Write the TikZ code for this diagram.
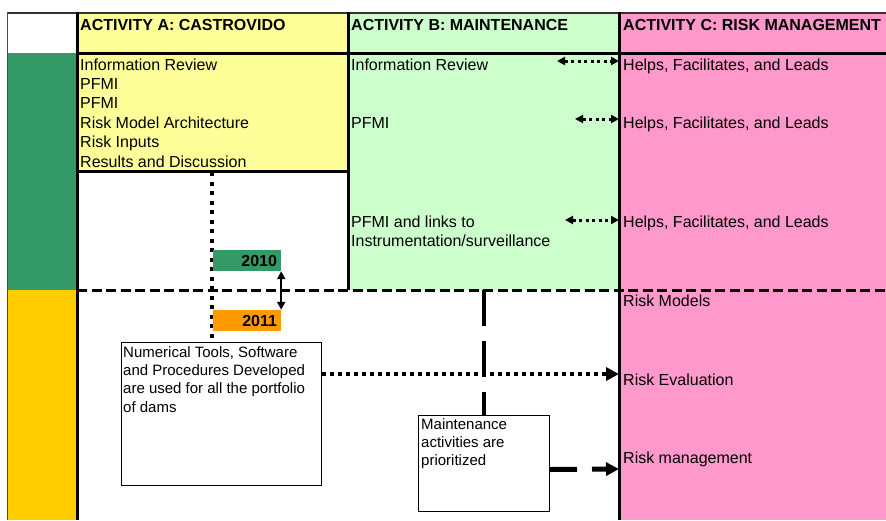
\documentclass[tikz,border=0pt]{standalone}
\usepackage{fontspec}
\setmainfont{Liberation Sans}
\usetikzlibrary{arrows.meta,positioning}
\definecolor{sea_green}{HTML}{339966}
\definecolor{pale_yellow}{HTML}{FFFF99}
\definecolor{pale_green}{HTML}{CCFFCC}
\definecolor{rose}{HTML}{FF99CC}
\definecolor{gold}{HTML}{FFCC00}
\definecolor{year_orange}{HTML}{FF9900}

\begin{document}
\begin{tikzpicture}[x=1pt,y=-1pt,
      cell_text/.style={
         anchor=base west,
         inner sep=0pt,
         align=left,
         font=\fontsize{16}{19.4}\selectfont},
      head_text/.style={
         anchor=base west,
         inner sep=0pt,
         font=\fontsize{16}{19.4}\selectfont\bfseries},
      box_text/.style={
         anchor=north west,
         inner sep=0pt,
         align=left,
         font=\fontsize{15}{18.4}\selectfont},
      note_box/.style={
         draw=black,
         line width=1pt,
         fill=white,
         anchor=north west,
         inner sep=0pt},
      year_box/.style={
         minimum width=68pt,
         minimum height=21pt,
         inner sep=0pt,
         text width=60pt,
         align=right,
         font=\fontsize{16}{19}\selectfont\bfseries},
      grid_line/.style={
         line width=3pt},
      arrow_link/.style={
         {Triangle[length=8pt,width=8pt]}-{Triangle[length=8pt,width=8pt]},
         line width=3pt,
         dash pattern=on 3pt off 3.5pt},
      arrow_year/.style={
         {Triangle[length=8pt,width=8pt]}-{Triangle[length=8pt,width=8pt]},
         line width=2pt},
      arrow_dotted/.style={
         -{Triangle[length=13pt,width=13pt]},
         line width=4pt,
         dash pattern=on 4pt off 4pt},
      arrow_dashed/.style={
         -{Triangle[length=13pt,width=13pt]},
         line width=5pt,
         dash pattern=on 27pt off 15pt}
]
      \useasboundingbox (0,0) rectangle (886,520);
      \fill[white] (0,0) rectangle (886,520);

      %column fills
      \fill[white]       (8,13)   rectangle (77,53);
      \fill[sea_green]   (8,53)   rectangle (77,290);
      \fill[gold]        (8,290)  rectangle (77,520);
      \fill[pale_yellow] (77,13)  rectangle (348,171);
      \fill[pale_green]  (348,13) rectangle (619,290);
      \fill[rose]        (619,13) rectangle (886,520);

      %grid
      \draw[line width=3pt, dash pattern=on 10pt off 4.5pt] (77,290) -- (886,290);
      \draw[line width=2.5pt, black!80] (7,13) -- (886,13);
      \draw[line width=1.5pt, black!70] (7.5,12) -- (7.5,520);
      \draw[grid_line] (77,12) -- (77,520);
      \draw[grid_line] (348,12) -- (348,290);
      \draw[grid_line] (619,12) -- (619,520);
      \draw[grid_line] (77,53.5) -- (886,53.5);
      \draw[grid_line] (77,171) -- (348,171);

      %headers
      \node[head_text] (hA) at (80,30)  {ACTIVITY A: CASTROVIDO};
      \node[head_text] (hB) at (351,30) {ACTIVITY B: MAINTENANCE};
      \node[head_text] (hC) at (623,30) {ACTIVITY C: RISK MANAGEMENT};

      %activity A
      \foreach \n/\yy/\txt in {%
        a1/70/Information Review,
        a2/89.4/PFMI,
        a3/108.8/PFMI,
        a4/128.2/Risk Model Architecture,
        a5/147.6/Risk Inputs,
        a6/167/Results and Discussion}
        \node[cell_text] (\n) at (80,\yy) {\txt};

      %activity B
      \node[cell_text] (b1) at (351,70)  {Information Review};
      \node[cell_text] (b2) at (351,128) {PFMI};
      \node[cell_text] (b3) at (351,246.4) {PFMI and links to\\Instrumentation/surveillance};

      %activity C
      \foreach \n/\yy/\txt in {%
        c1/70/{Helps, Facilitates, and Leads},
        c2/128/{Helps, Facilitates, and Leads},
        c3/227/{Helps, Facilitates, and Leads},
        c4/306/Risk Models,
        c5/385/Risk Evaluation,
        c6/463/Risk management}
        \node[cell_text] (\n) at (623,\yy) {\txt};

      %timeline
      \coordinate (a_end) at (212,172);
      \node[note_box, minimum width=200pt, minimum height=143pt] (tools) at (121,342) {};
      \draw[line width=4pt, dash pattern=on 4pt off 5.5pt] (a_end) -- (tools.north -| a_end);
      \node[year_box, fill=sea_green] (y2010) at (247,260.5) {2010};
      \node[year_box, fill=year_orange] (y2011) at (247,320.5) {2011};
      \draw[arrow_year] (y2010.south east) -- (y2011.north east);

      \node[box_text] (tools_txt) at ([shift={(2,4)}]tools.north west)
        {Numerical Tools, Software\\and Procedures Developed\\are used for all the portfolio\\of dams};

      %maintenance
      \coordinate (split) at (484,290);
      \node[note_box, minimum width=131pt, minimum height=96pt] (maint) at (418,415) {};
      \draw[line width=4.5pt, dash pattern=on 36pt off 15pt] (split) -- (maint.north);
      \node[box_text] (maint_txt) at ([shift={(3,3)}]maint.north west)
        {Maintenance\\activities are\\prioritized};

      %links B - C
      \coordinate (l1) at (557,61);  \coordinate (r1) at (619,61);
      \coordinate (l2) at (575,119); \coordinate (r2) at (619,119);
      \coordinate (l3) at (565,220); \coordinate (r3) at (619,220);
      \foreach \i/\j in {l1/r1, l2/r2, l3/r3}
        \draw[arrow_link] (\i) -- (\j);

      %links to risk
      \coordinate (eval_in) at (619,374);
      \coordinate (mgmt_in) at (619,469);
      \draw[arrow_dotted] ([yshift=-32pt]tools.north east) -- (eval_in);
      \draw[arrow_dashed] ([yshift=-6pt]maint.east) -- (mgmt_in);
\end{tikzpicture}
\end{document}
